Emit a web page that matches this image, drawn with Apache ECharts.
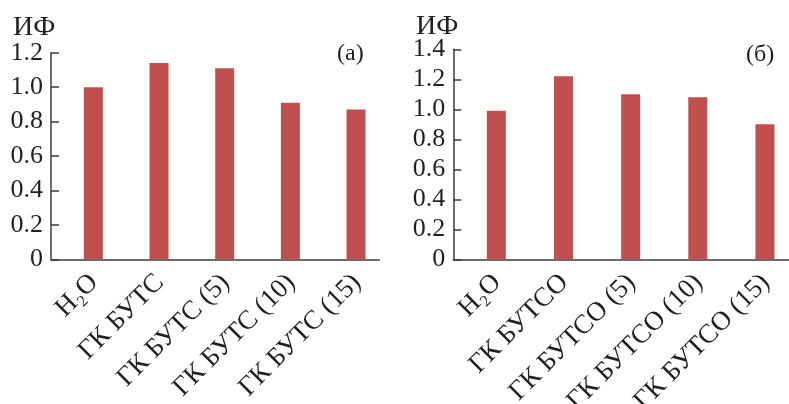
<!DOCTYPE html>
<html>
<head>
<meta charset="utf-8">
<script src="https://cdn.jsdelivr.net/npm/echarts@6/dist/echarts.min.js"></script>
<style>html,body{margin:0;padding:0;background:#fff;}#c{width:789px;height:404px;}</style>
</head>
<body>
<div id="c"></div>
<script>
// ---- data ----
var categoriesA = ['H₂O', 'ГК БУТС', 'ГК БУТС (5)', 'ГК БУТС (10)', 'ГК БУТС (15)'];
var valuesA = [1.00, 1.14, 1.11, 0.91, 0.87];
var categoriesB = ['H₂O', 'ГК БУТСО', 'ГК БУТСО (5)', 'ГК БУТСО (10)', 'ГК БУТСО (15)'];
var valuesB = [0.99, 1.22, 1.10, 1.08, 0.90];
var yTicksA = [0, 0.2, 0.4, 0.6, 0.8, 1.0, 1.2];
var yTicksB = [0, 0.2, 0.4, 0.6, 0.8, 1.0, 1.2, 1.4];
var yName = 'ИФ';
var panelA = '(а)';
var panelB = '(б)';

// ---- styling ----
var FONT = 'Liberation Serif';
var TXT = '#231f20';
var AX = '#3c3c3c';
var BAR = '#c0504d';

function yLabel(v) {
  return Math.abs(v) < 1e-9 ? '0' : v.toFixed(1);
}
function xAxis(idx, cats) {
  return {
    type: 'category', gridIndex: idx, data: cats,
    axisLine: {lineStyle: {color: AX, width: 1.5}},
    axisTick: {inside: true, length: 8, lineStyle: {color: AX, width: 1.5}},
    axisLabel: {
      rotate: 45, interval: 0, margin: 9, align: 'right', verticalAlign: 'top', lineHeight: 29,
      fontFamily: FONT, fontSize: 27, color: TXT
    }
  };
}
function yAxis(idx, ticks) {
  return {
    type: 'value', gridIndex: idx, min: ticks[0], max: ticks[ticks.length - 1], interval: 0.2,
    axisLine: {show: true, lineStyle: {color: AX, width: 1.5}},
    axisTick: {show: true, inside: true, length: 8, lineStyle: {color: AX, width: 1.5}},
    splitLine: {show: false},
    axisLabel: {margin: 8, fontFamily: FONT, fontSize: 26, color: TXT, formatter: yLabel}
  };
}
var ts = {fontFamily: FONT, fontSize: 24, fontWeight: 'normal', color: TXT};
var tsName = {fontFamily: FONT, fontSize: 28, fontWeight: 'normal', color: TXT};
var option = {
  animation: false,
  backgroundColor: '#fff',
  title: [
    {text: yName, left: 13, top: 14, textStyle: tsName, padding: 0},
    {text: panelA, left: 337, top: 42, textStyle: ts, padding: 0},
    {text: yName, left: 416, top: 13, textStyle: tsName, padding: 0},
    {text: panelB, left: 746, top: 43, textStyle: ts, padding: 0}
  ],
  grid: [
    {left: 51, top: 52.7, width: 328.4, bottom: 144.7, containLabel: false, outerBoundsMode: 'none'},
    {left: 453.3, top: 49.3, width: 335.7, bottom: 144.7, containLabel: false, outerBoundsMode: 'none'}
  ],
  xAxis: [xAxis(0, categoriesA), xAxis(1, categoriesB)],
  yAxis: [yAxis(0, yTicksA), yAxis(1, yTicksB)],
  series: [
    {type: 'bar', xAxisIndex: 0, yAxisIndex: 0, data: [], barWidth: 19, barGap: '0%'},
    {type: 'bar', xAxisIndex: 0, yAxisIndex: 0, data: valuesA, barWidth: 19, barGap: '0%', itemStyle: {color: BAR}},
    {type: 'bar', xAxisIndex: 1, yAxisIndex: 1, data: [], barWidth: 19, barGap: '0%'},
    {type: 'bar', xAxisIndex: 1, yAxisIndex: 1, data: valuesB, barWidth: 19, barGap: '0%', itemStyle: {color: BAR}}
  ]
};
var chart = echarts.init(document.getElementById('c'), null, {renderer: 'canvas'});
chart.setOption(option);
</script>
</body>
</html>
